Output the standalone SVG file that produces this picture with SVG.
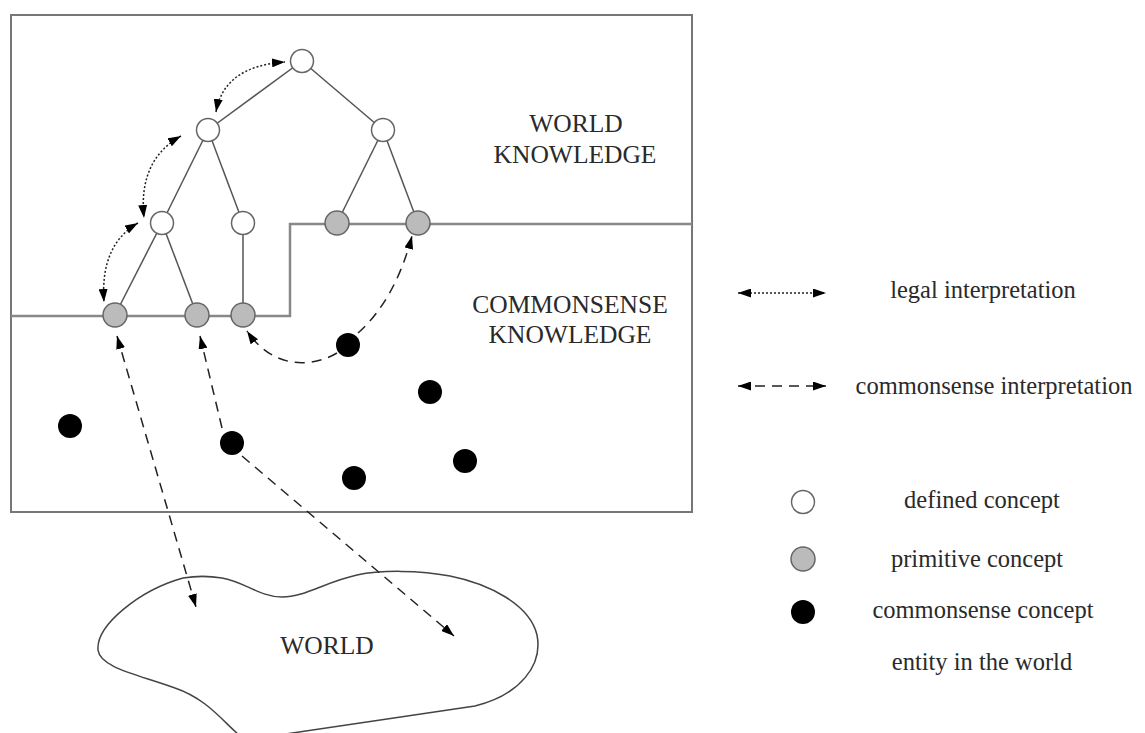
<svg xmlns="http://www.w3.org/2000/svg" width="1145" height="733" viewBox="0 0 1145 733">
<style>
  .txt { font-family: "Liberation Serif", "Times New Roman", serif; font-size: 25.5px; fill: #2a2a2a; text-anchor: middle; }
  .leg { font-family: "Liberation Serif", "Times New Roman", serif; font-size: 24.5px; fill: #2a2a2a; text-anchor: middle; }
  .frame { fill: none; stroke: #777; stroke-width: 2; }
  .divider { fill: none; stroke: #888; stroke-width: 2.5; }
  .edge { stroke: #555; stroke-width: 1.5; fill: none; }
  .defined { fill: #fff; stroke: #666; stroke-width: 1.5; }
  .primitive { fill: #bbb; stroke: #666; stroke-width: 1.5; }
  .common { fill: #000; }
  .legal { fill: none; stroke: #222; stroke-width: 1.5; stroke-dasharray: 2 2; }
  .cs { fill: none; stroke: #222; stroke-width: 1.5; stroke-dasharray: 10 7; }
  .world { fill: none; stroke: #444; stroke-width: 1.5; }
</style>
<defs>
  <marker id="ah" viewBox="0 0 13 9" refX="13" refY="4.5" markerWidth="13" markerHeight="9" orient="auto-start-reverse" markerUnits="userSpaceOnUse">
    <path d="M0,0 L13,4.5 L0,9 Z" fill="#000"/>
  </marker>
</defs>

<rect id="frame" class="frame" x="11" y="15" width="681" height="497"/>
<path id="divider" class="divider" d="M11,316 H290 V224 H692"/>

<g id="world">
  <path class="world" d="M183,578 C195,576 210,576 222,578 C245,582 260,597 282,597 C305,597 325,582 357,575 C380,570 420,570 450,576 C490,584 530,605 537,635 C543,665 520,695 475,706 L245,740 C225,725 210,700 175,688 C140,675 100,668 98,650 C96,625 140,590 183,578 Z"/>
  <text class="txt" x="327" y="654">WORLD</text>
</g>

<g id="labels">
  <text class="txt" x="576" y="132">WORLD</text>
  <text class="txt" x="575" y="163">KNOWLEDGE</text>
  <text class="txt" x="570" y="313">COMMONSENSE</text>
  <text class="txt" x="570" y="343">KNOWLEDGE</text>
</g>

<g id="edges">
  <line class="edge" x1="302" y1="61" x2="208" y2="130"/>
  <line class="edge" x1="302" y1="61" x2="383" y2="130"/>
  <line class="edge" x1="208" y1="130" x2="162" y2="223"/>
  <line class="edge" x1="208" y1="130" x2="243" y2="223"/>
  <line class="edge" x1="383" y1="130" x2="337" y2="223"/>
  <line class="edge" x1="383" y1="130" x2="418" y2="223"/>
  <line class="edge" x1="162" y1="223" x2="115" y2="315"/>
  <line class="edge" x1="162" y1="223" x2="197" y2="315"/>
  <line class="edge" x1="243" y1="223" x2="243" y2="315"/>
</g>

<g id="connectors">
  <path class="legal" d="M216,112 Q224,66 285,62" marker-start="url(#ah)" marker-end="url(#ah)"/>
  <path class="legal" d="M181,136 Q138,160 144,218" marker-start="url(#ah)" marker-end="url(#ah)"/>
  <path class="legal" d="M138,223 Q100,245 104,302" marker-start="url(#ah)" marker-end="url(#ah)"/>
  <path class="cs" d="M358,333 Q395,300 412,236" marker-end="url(#ah)"/>
  <path class="cs" d="M337,353 C315,366 275,372 247,331" marker-end="url(#ah)"/>
  <path class="cs" d="M117,336 L196,607" marker-start="url(#ah)" marker-end="url(#ah)"/>
  <path class="cs" d="M222,428 L200,336" marker-end="url(#ah)"/>
  <path class="cs" d="M242,456 L454,636" marker-end="url(#ah)"/>
</g>

<g id="n-top"><circle class="defined" cx="302" cy="61" r="11.5"/></g>
<g id="n-l2a"><circle class="defined" cx="208" cy="130" r="11.5"/></g>
<g id="n-l2b"><circle class="defined" cx="383" cy="130" r="11.5"/></g>
<g id="n-l3a"><circle class="defined" cx="162" cy="223" r="11.5"/></g>
<g id="n-l3b"><circle class="defined" cx="243" cy="223" r="11.5"/></g>
<g id="n-p1"><circle class="primitive" cx="337" cy="223" r="12"/></g>
<g id="n-p2"><circle class="primitive" cx="418" cy="223" r="12"/></g>
<g id="n-p3"><circle class="primitive" cx="115" cy="315" r="12"/></g>
<g id="n-p4"><circle class="primitive" cx="197" cy="315" r="12"/></g>
<g id="n-p5"><circle class="primitive" cx="243" cy="315" r="12"/></g>

<g id="n-c1"><circle class="common" cx="348" cy="345" r="12"/></g>
<g id="n-c2"><circle class="common" cx="430" cy="392" r="12"/></g>
<g id="n-c3"><circle class="common" cx="70" cy="426" r="12"/></g>
<g id="n-c4"><circle class="common" cx="232" cy="443" r="12"/></g>
<g id="n-c5"><circle class="common" cx="354" cy="478" r="12"/></g>
<g id="n-c6"><circle class="common" cx="465" cy="461" r="12"/></g>

<g id="legend">
  <line class="legal" x1="738" y1="293" x2="826" y2="293" marker-start="url(#ah)" marker-end="url(#ah)"/>
  <text class="leg" x="983" y="298">legal interpretation</text>
  <line class="cs" x1="738" y1="386" x2="826" y2="386" marker-start="url(#ah)" marker-end="url(#ah)"/>
  <text class="leg" x="994" y="394">commonsense interpretation</text>
  <circle class="defined" cx="803" cy="502" r="11.5"/>
  <text class="leg" x="982" y="508">defined concept</text>
  <circle class="primitive" cx="803" cy="559" r="12"/>
  <text class="leg" x="977" y="567">primitive concept</text>
  <circle class="common" cx="803" cy="612" r="12"/>
  <text class="leg" x="983" y="618">commonsense concept</text>
  <text class="leg" x="982" y="670">entity in the world</text>
</g>
</svg>
